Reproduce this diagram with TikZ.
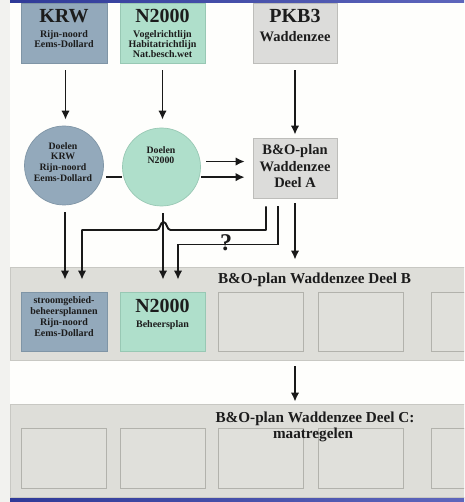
\documentclass[tikz,border=0pt]{standalone}
\usepackage{fontspec}
\setmainfont{Liberation Serif}
\usetikzlibrary{arrows.meta}
\definecolor{krwblue}{HTML}{93A9BB}
\definecolor{krwedge}{HTML}{7F95A6}
\definecolor{ngreen}{HTML}{AFDFCB}
\definecolor{ngedge}{HTML}{98C8B4}
\definecolor{pgray}{HTML}{DCDCDA}
\definecolor{pedge}{HTML}{BDBDBA}
\definecolor{bandc}{HTML}{DEDED9}
\definecolor{bandedge}{HTML}{C8C8C3}
\definecolor{innerc}{HTML}{E0E0DB}
\definecolor{inneredge}{HTML}{B2B2AC}
\definecolor{textc}{HTML}{1C1C1C}
\definecolor{barL}{HTML}{2F3A98}
\definecolor{barR}{HTML}{5E66BC}
\definecolor{stripc}{HTML}{F2F2EF}
\definecolor{bgc}{HTML}{FEFEFC}
\tikzset{
  box/.style={draw=#1, line width=0.7pt, rectangle, inner sep=0pt},
  circ/.style={draw=#1, line width=0.7pt, circle, inner sep=0pt},
  band/.style={draw=bandedge, fill=bandc, line width=0.8pt, rectangle, inner sep=0pt, minimum width=470pt, minimum height=93pt},
  inbox/.style={draw=inneredge, fill=innerc, line width=0.8pt, rectangle, inner sep=0pt, minimum width=85pt, minimum height=59pt},
  txt/.style={inner sep=0pt, anchor=base, text=textc},
  tbig/.style={txt, font=\fontsize{20}{22}\selectfont\bfseries},
  tsmall/.style={txt, font=\fontsize{10}{11}\selectfont\bfseries},
  tcirc/.style={txt, font=\fontsize{9.8}{11}\selectfont\bfseries},
  tmid/.style={txt, font=\fontsize{14.5}{16}\selectfont\bfseries},
  ttitle/.style={txt, font=\fontsize{15.2}{17}\selectfont\bfseries},
  ln/.style={line width=1.9pt, draw=black!90},
  arr/.style={ln, -{Latex[length=9pt,width=8.5pt]}},
}
\begin{document}
\begin{tikzpicture}[x=1pt, y=-1pt]
\useasboundingbox (0,0) rectangle (464,502);
\clip (0,0) rectangle (464,502);
% background
\fill[bgc] (0,0) rectangle (464,502);
\fill[stripc] (0,0) rectangle (10,502);
\shade[left color=barL, right color=barR] (10,0) rectangle (464,3);
\shade[left color=barL, right color=barR] (10,497) rectangle (464,502);

% bands
\node[band] (bandB) at (245,313.5) {};
\node[band] (bandC) at (245,450.5) {};

% top row boxes
\node[box=krwedge, fill=krwblue, minimum width=86pt, minimum height=60pt] (krw) at (64,33) {};
\node[box=ngedge, fill=ngreen, minimum width=85pt, minimum height=60pt] (n2k) at (162.5,33) {};
\node[box=pedge, fill=pgray, minimum width=84pt, minimum height=60pt] (pkb) at (295,33) {};

\node[tbig] (krwt) at (64,23) {KRW};
\node[tsmall] (krws1) at (64,38) {Rijn-noord};
\node[tsmall] (krws2) at (64,48) {Eems-Dollard};

\node[tbig] (n2kt) at (162.5,23) {N2000};
\node[tsmall] (n2ks1) at (162.5,38) {Vogelrichtlijn};
\node[tsmall] (n2ks2) at (162.5,48) {Habitatrichtlijn};
\node[tsmall] (n2ks3) at (162.5,58) {Nat.besch.wet};

\node[tbig] (pkbt) at (295,23) {PKB3};
\node[tmid] (pkbs) at (295,42) {Waddenzee};

% circles
\node[circ=krwedge, fill=krwblue, minimum size=79pt] (dkrw) at (64,165.5) {};
\node[tcirc] (dk1) at (63,149.5) {Doelen};
\node[tcirc] (dk2) at (63,160) {KRW};
\node[tcirc] (dk3) at (63,170.5) {Rijn-noord};
\node[tcirc] (dk4) at (63,181.5) {Eems-Dollard};

\node[circ=ngedge, fill=ngreen, minimum size=78pt] (dn2k) at (161.5,167) {};
\node[tcirc] (dn1) at (161,153.3) {Doelen};
\node[tcirc] (dn2) at (161,163.3) {N2000};

% Deel A box
\node[box=pedge, fill=pgray, minimum width=84pt, minimum height=60pt] (boa) at (295,168) {};
\node[tmid] (boa1) at (295,155) {B\&O-plan};
\node[tmid] (boa2) at (295,171.5) {Waddenzee};
\node[tmid] (boa3) at (295,188) {Deel A};

% band B content
\node[ttitle] (bBt) at (314.5,283) {B\&O-plan Waddenzee Deel B};
\node[inbox, draw=krwedge, fill=krwblue, minimum width=86pt] (sgb) at (64,321.5) {};
\node[tsmall] (sgb1) at (64,303.5) {stroomgebied-};
\node[tsmall] (sgb2) at (64,314.5) {beheersplannen};
\node[tsmall] (sgb3) at (64,325.5) {Rijn-noord};
\node[tsmall] (sgb4) at (64,336.5) {Eems-Dollard};
\node[inbox, draw=ngedge, fill=ngreen] (n2kb) at (162.5,321.5) {};
\node[tbig] (n2kb1) at (162.5,312.5) {N2000};
\node[tsmall] (n2kb2) at (162.5,327) {Beheersplan};
\node[inbox] (b3) at (260.5,321.5) {};
\node[inbox] (b4) at (360.5,321.5) {};
\node[inbox] (b5) at (473.5,321.5) {};

% band C content
\node[inbox, minimum height=60pt] (c1) at (64,458) {};
\node[inbox, minimum height=60pt] (c2) at (162.5,458) {};
\node[inbox, minimum height=60pt] (c3) at (260.5,458) {};
\node[inbox, minimum height=60pt] (c4) at (360.5,458) {};
\node[inbox, minimum height=60pt] (c5) at (473.5,458) {};
\node[ttitle] (bCt) at (315,422) {B\&O-plan Waddenzee Deel C:};
\node[ttitle] (bCt2) at (313,438) {maatregelen};

% connectors top
\draw[arr, shorten <=7pt, shorten >=6pt] ([xshift=1.5pt]krw.south) -- ([xshift=1.5pt]krw.south |- dkrw.north);
\draw[arr, shorten <=7pt, shorten >=8pt] (n2k.south) -- (n2k.south |- dn2k.north);
\draw[arr, shorten <=7pt, shorten >=3pt] (pkb.south) -- (boa.north);

% circles to Deel A
\draw[ln, shorten <=4pt] (dkrw.-17) -- (dkrw.-17 -| dn2k.west);
\draw[arr, shorten >=8pt] (dn2k.east |- dkrw.-17) -- (boa.west |- dkrw.-17);
\draw[arr, shorten <=6pt, shorten >=8pt] (dn2k.8) -- (boa.west |- dn2k.8);

% circles down
\draw[arr, shorten <=7pt, shorten >=12pt] ([xshift=1pt]dkrw.south) -- ([xshift=1pt]dkrw.south |- sgb.north);
\draw[arr, shorten <=7pt, shorten >=12pt] ([xshift=1.5pt]dn2k.south) -- ([xshift=1.5pt]dn2k.south |- n2kb.north);

% Deel A to band B boxes
\coordinate (hopR) at (170.5,230);
\coordinate (hopL) at (156.5,230);
\draw[arr, shorten <=8pt, shorten >=12pt, line join=round]
  ([xshift=-29pt]boa.south) -- ([xshift=-29pt]boa.south |- hopR) -- (hopR)
  .. controls (166.5,230) and (167,222) .. (163.5,222)
  .. controls (160,222) and (160.5,230) .. (hopL)
  -- ([xshift=18pt]sgb.north |- hopL) -- ([xshift=18pt]sgb.north);
\coordinate (low) at (0,244.5);
\draw[arr, shorten <=8pt, shorten >=12pt]
  ([xshift=-17pt]boa.south) -- ([xshift=-17pt]boa.south |- low)
  -- ([xshift=15.5pt]n2kb.north |- low) -- ([xshift=15.5pt]n2kb.north);
\node[txt, font=\fontsize{24}{26}\selectfont\bfseries] (q) at (226,250) {?};

% Deel A to band B, band B to band C
\draw[arr, shorten <=5pt, shorten >=7pt] (boa.south) -- (boa.south |- bandB.north);
\draw[arr, shorten <=6pt, shorten >=2pt] (boa.south |- bandB.south) -- (boa.south |- bandC.north);
\end{tikzpicture}
\end{document}
